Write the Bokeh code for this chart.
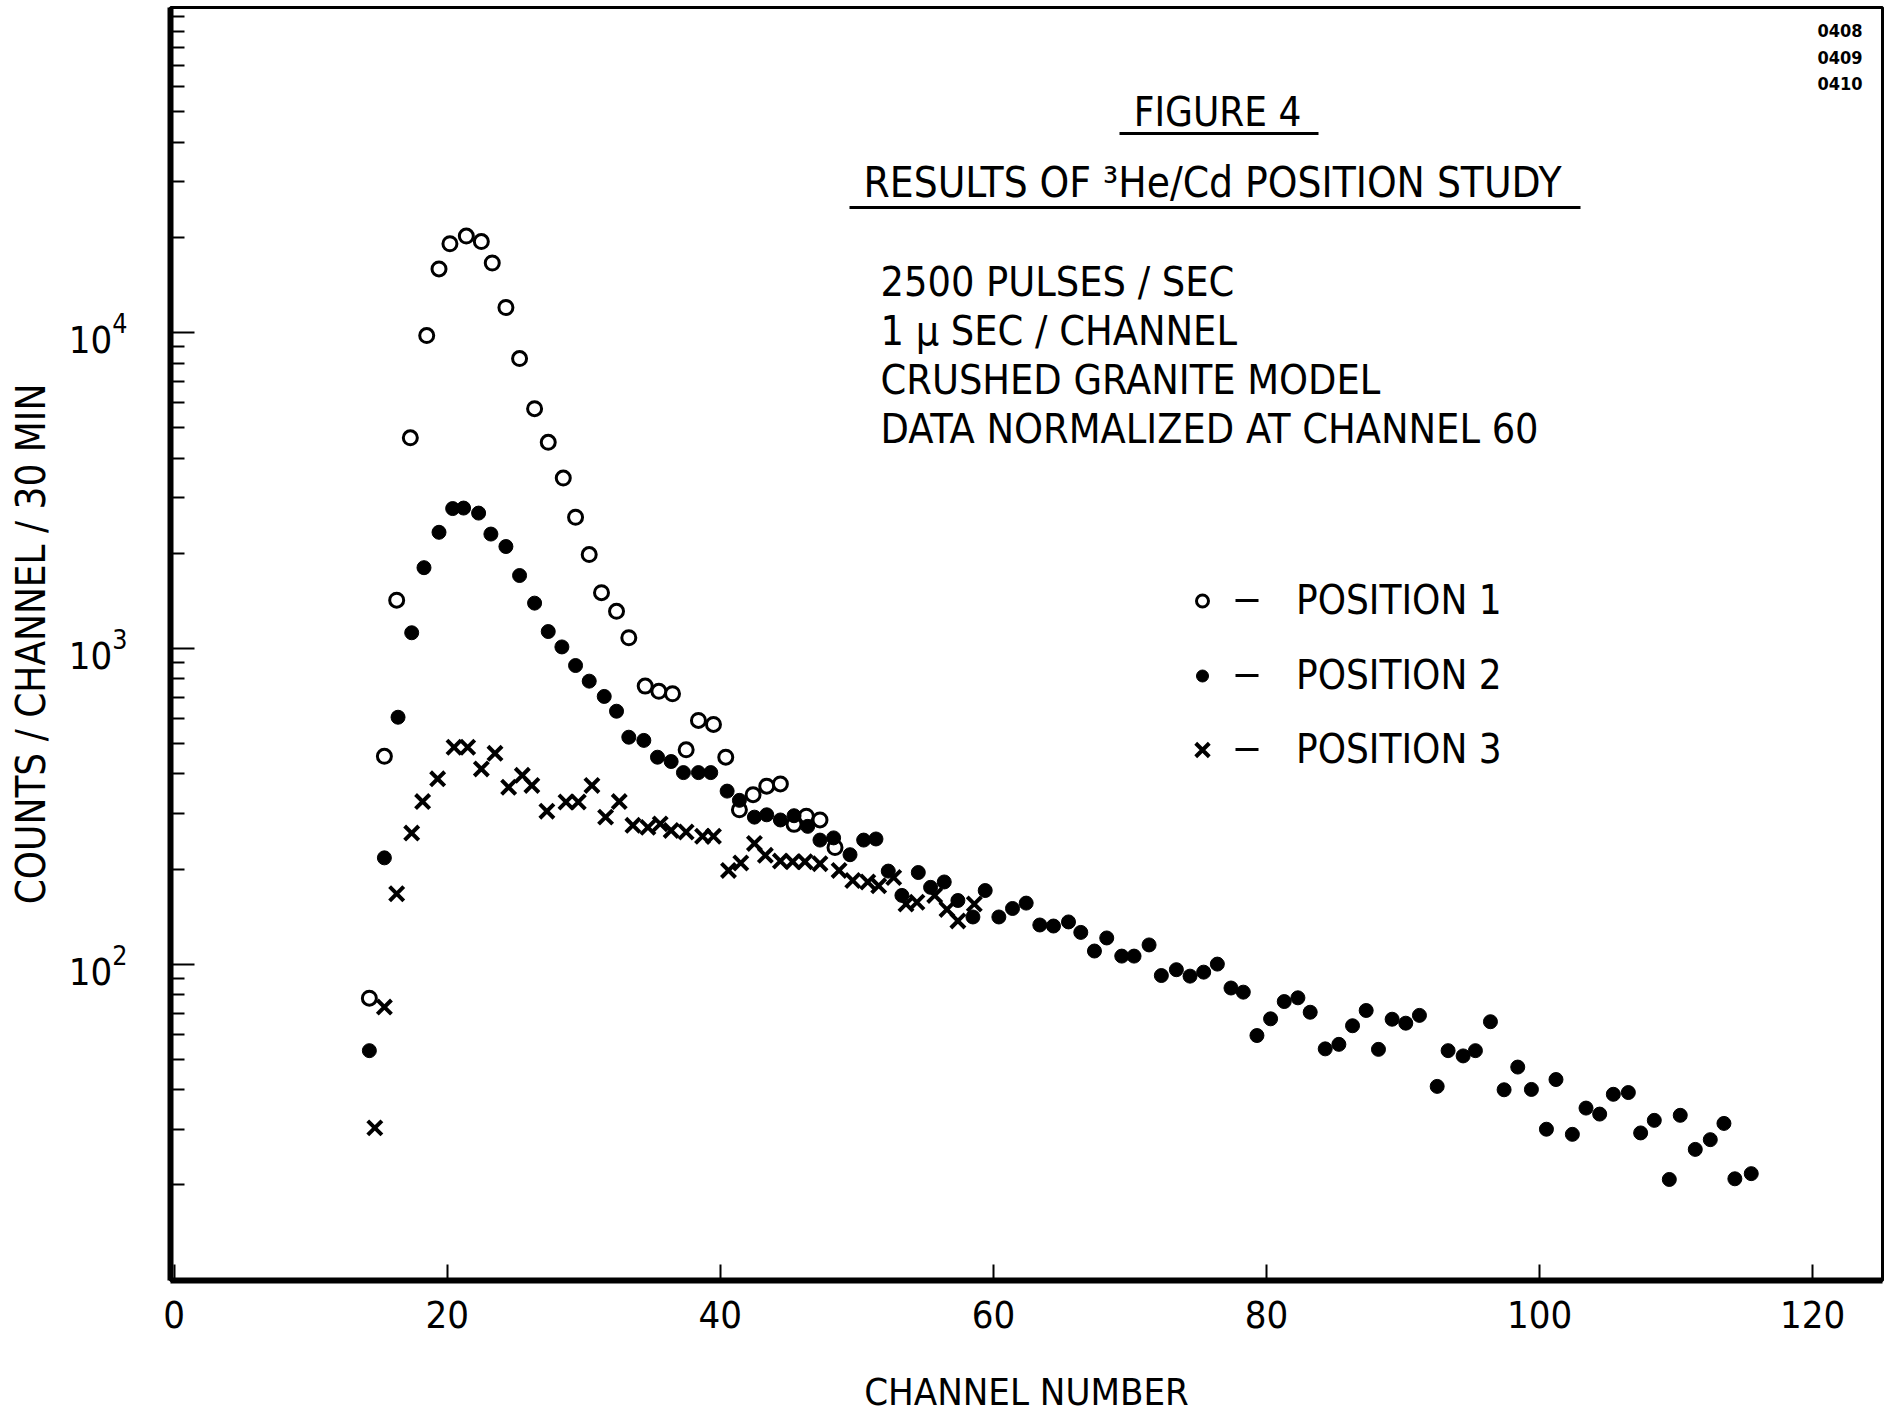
from bokeh.plotting import figure
from bokeh.models import FixedTicker, Legend, LegendItem, Label
from bokeh.embed import file_html
from bokeh.resources import INLINE

FONT = "DejaVu Sans Condensed, Roboto, sans-serif"
INK = "black"

# ---- data (channel, counts / channel / 30 min) ----
pos1_channel = [14.3, 15.4, 16.3, 17.3, 18.5, 19.4, 20.2, 21.4, 22.5, 23.3, 24.3, 25.3,
                26.4, 27.4, 28.5, 29.4, 30.4, 31.3, 32.4, 33.3, 34.5, 35.5, 36.5, 37.5,
                38.4, 39.5, 40.4, 41.4, 42.4, 43.4, 44.4, 45.4, 46.3, 47.3, 48.4]
pos1_counts = [78, 455, 1420, 4640, 9780, 15900, 19100, 20200, 19400, 16600, 12000, 8270,
               5740, 4490, 3460, 2600, 1980, 1500, 1310, 1080, 759, 731, 718, 477,
               591, 574, 452, 308, 344, 366, 372, 277, 294, 286, 234]

pos2_channel = [14.3, 15.4, 16.4, 17.4, 18.3, 19.4, 20.4, 21.2, 22.3, 23.2, 24.3, 25.3,
                26.4, 27.4, 28.4, 29.4, 30.4, 31.5, 32.4, 33.3, 34.4, 35.4, 36.4, 37.3,
                38.4, 39.3, 40.5, 41.4, 42.5, 43.4, 44.4, 45.4, 46.4, 47.3, 48.3, 49.5,
                50.5, 51.4, 52.3, 53.3, 54.5, 55.4, 56.4, 57.4, 58.5, 59.4, 60.4, 61.4,
                62.4, 63.4, 64.4, 65.5, 66.4, 67.4, 68.3, 69.4, 70.3, 71.4, 72.3, 73.4,
                74.4, 75.4, 76.4, 77.4, 78.3, 79.3, 80.3, 81.3, 82.3, 83.2, 84.3, 85.3,
                86.3, 87.3, 88.2, 89.2, 90.2, 91.2, 92.5, 93.3, 94.4, 95.3, 96.4, 97.4,
                98.4, 99.4, 100.5, 101.2, 102.4, 103.4, 104.4, 105.4, 106.5, 107.4, 108.4,
                109.5, 110.3, 111.4, 112.5, 113.5, 114.3, 115.5]
pos2_counts = [53.2, 217, 605, 1120, 1800, 2330, 2770, 2780, 2680, 2300, 2100, 1700,
               1390, 1130, 1010, 882, 787, 704, 632, 523, 511, 452, 438, 404,
               404, 404, 353, 330, 292, 297, 286, 295, 273, 247, 251, 222,
               247, 249, 197, 165, 195, 175, 182, 159, 141, 171, 141, 150,
               156, 133, 132, 136, 126, 110, 121, 106, 106, 115, 92, 96,
               91.6, 94.3, 100, 84, 81.5, 59.4, 67.1, 76.1, 78.2, 70.4, 53.9, 55.7,
               63.8, 71.3, 53.7, 66.9, 65.0, 68.8, 41.0, 53.2, 51.2, 53.2, 65.7, 40.0,
               47.2, 40.1, 30.0, 43.1, 28.9, 35.0, 33.5, 38.7, 39.2, 29.2, 32.0,
               20.8, 33.2, 25.9, 27.8, 31.3, 20.9, 21.7]

pos3_channel = [14.7, 15.4, 16.3, 17.4, 18.2, 19.3, 20.5, 21.5, 22.5, 23.5, 24.5, 25.5,
                26.2, 27.3, 28.7, 29.6, 30.6, 31.6, 32.6, 33.6, 34.7, 35.6, 36.4, 37.5,
                38.7, 39.5, 40.6, 41.5, 42.5, 43.3, 44.4, 45.3, 46.2, 47.3, 48.7, 49.7,
                50.8, 51.6, 52.7, 53.6, 54.4, 55.7, 56.6, 57.4, 58.6]
pos3_counts = [30.3, 73.1, 167, 260, 327, 386, 486, 486, 415, 465, 363, 396,
               368, 305, 326, 326, 368, 292, 327, 275, 271, 278, 265, 262,
               254, 254, 198, 209, 241, 221, 212, 211, 211, 208, 198, 184,
               182, 177, 188, 155, 157, 165, 149, 137, 155]

series_labels = ["POSITION 1", "POSITION 2", "POSITION 3"]
x_ticks = [0, 20, 40, 60, 80, 100, 120]
y_major_ticks = [100, 1000, 10000]
y_minor_ticks = [20, 30, 40, 50, 60, 70, 80, 90,
                 200, 300, 400, 500, 600, 700, 800, 900,
                 2000, 3000, 4000, 5000, 6000, 7000, 8000, 9000,
                 20000, 30000, 40000, 50000, 60000, 70000, 80000, 90000, 100000]

title_lines = ["FIGURE 4", "RESULTS OF \u00b3He/Cd POSITION STUDY"]
note_lines = ["2500 PULSES / SEC", "1 \u03bc SEC / CHANNEL", "CRUSHED GRANITE MODEL",
              "DATA NORMALIZED AT CHANNEL 60"]
page_codes = ["0408", "0409", "0410"]

# ---- layout helpers (page pixel -> data) ----
FL, FR, FT, FB = 170, 1882, 7, 1280
X0PX, PXCH = 173.6, 13.655
Y4PX, DEC = 332.0, 315.8


def xd(px):
    return (px - X0PX) / PXCH


def yd(py):
    return 10 ** (4 - (py - Y4PX) / DEC)


p = figure(width=1890, height=1425, y_axis_type="log",
           x_range=(xd(FL), xd(FR)), y_range=(yd(FB), yd(FT)),
           output_backend="svg", toolbar_location=None,
           min_border_left=FL, min_border_right=1890 - FR,
           min_border_top=FT, min_border_bottom=1425 - FB)
p.grid.visible = False
p.outline_line_color = INK
p.outline_line_width = 3
p.background_fill_color = "white"
p.border_fill_color = "white"

xa = p.xaxis[0]
xa.ticker = FixedTicker(ticks=x_ticks, minor_ticks=[])
xa.major_tick_in = 16
xa.major_tick_out = 0
xa.minor_tick_in = 0
xa.minor_tick_out = 0
xa.axis_line_width = 6
xa.axis_line_color = INK
xa.major_tick_line_width = 2
xa.major_tick_line_color = INK
xa.major_label_text_font = FONT
xa.major_label_text_font_size = "38px"
xa.major_label_text_color = INK
xa.major_label_standoff = 20
xa.axis_label = "CHANNEL NUMBER"
xa.axis_label_text_font = FONT
xa.axis_label_text_font_style = "normal"
xa.axis_label_text_font_size = "38px"
xa.axis_label_text_color = INK
xa.axis_label_standoff = 39

ya = p.yaxis[0]
ya.ticker = FixedTicker(ticks=y_major_ticks, minor_ticks=y_minor_ticks)
ya.major_tick_in = 24
ya.major_tick_out = 0
ya.minor_tick_in = 14
ya.minor_tick_out = 0
ya.axis_line_width = 6
ya.axis_line_color = INK
ya.major_tick_line_width = 2
ya.minor_tick_line_width = 2
ya.major_tick_line_color = INK
ya.minor_tick_line_color = INK
ya.major_label_text_font = FONT
ya.major_label_text_font_size = "38px"
ya.major_label_text_color = INK
ya.major_label_standoff = 43
ya.axis_label = "COUNTS / CHANNEL / 30 MIN"
ya.axis_label_text_font = FONT
ya.axis_label_text_font_style = "normal"
ya.axis_label_text_font_size = "40px"
ya.axis_label_text_color = INK
ya.axis_label_standoff = 12

r1 = p.scatter(pos1_channel, pos1_counts, marker="circle", size=14,
               fill_color="white", line_color=INK, line_width=3)
r2 = p.scatter(pos2_channel, pos2_counts, marker="circle", size=14,
               fill_color=INK, line_color=INK, line_width=1)
r3 = p.scatter(pos3_channel, pos3_counts, marker="x", size=20,
               line_color=INK, line_width=4)

# one legend per row so each symbol can get its own size
leg_rows = [600, 675, 749]
glyph_widths = [30, 30, 48]
for renderer, label, row, gw in zip([r1, r2, r3], series_labels, leg_rows, glyph_widths):
    leg = Legend(items=[LegendItem(label=label, renderers=[renderer])],
                 location=(1202 - gw / 2 - FL, FB - (row + 37.5)), orientation="vertical",
                 glyph_width=gw, glyph_height=75, label_height=75, spacing=0,
                 padding=0, margin=0, label_standoff=int(94 - gw / 2),
                 label_text_font=FONT, label_text_font_size="40px", label_text_color=INK,
                 border_line_alpha=0, background_fill_alpha=0)
    p.add_layout(leg)

# dashes between legend symbols and labels
p.segment(x0=[xd(1235)] * 3, y0=[yd(v) for v in leg_rows],
          x1=[xd(1258)] * 3, y1=[yd(v) for v in leg_rows],
          line_color=INK, line_width=3)

# title block
p.add_layout(Label(x=xd(1217), y=yd(111), text=title_lines[0], text_align="center",
                   text_baseline="middle", text_font=FONT, text_font_size="40px",
                   text_color=INK))
p.add_layout(Label(x=xd(1212), y=yd(182), text=title_lines[1], text_align="center",
                   text_baseline="middle", text_font=FONT, text_font_size="42px",
                   text_color=INK))
p.segment(x0=[xd(1119), xd(849)], y0=[yd(133), yd(207)],
          x1=[xd(1318), xd(1580)], y1=[yd(133), yd(207)],
          line_color=INK, line_width=3)

for i, line in enumerate(note_lines):
    p.add_layout(Label(x=xd(880), y=yd(281 + 49 * i), text=line, text_align="left",
                       text_baseline="middle", text_font=FONT, text_font_size="41px",
                       text_color=INK))

for i, code in enumerate(page_codes):
    p.add_layout(Label(x=xd(1862), y=yd(30 + 26.5 * i), text=code, text_align="right",
                       text_baseline="middle", text_font=FONT, text_font_size="18px",
                       text_font_style="bold", text_color=INK))

open("out.html", "w").write(file_html(p, INLINE))
